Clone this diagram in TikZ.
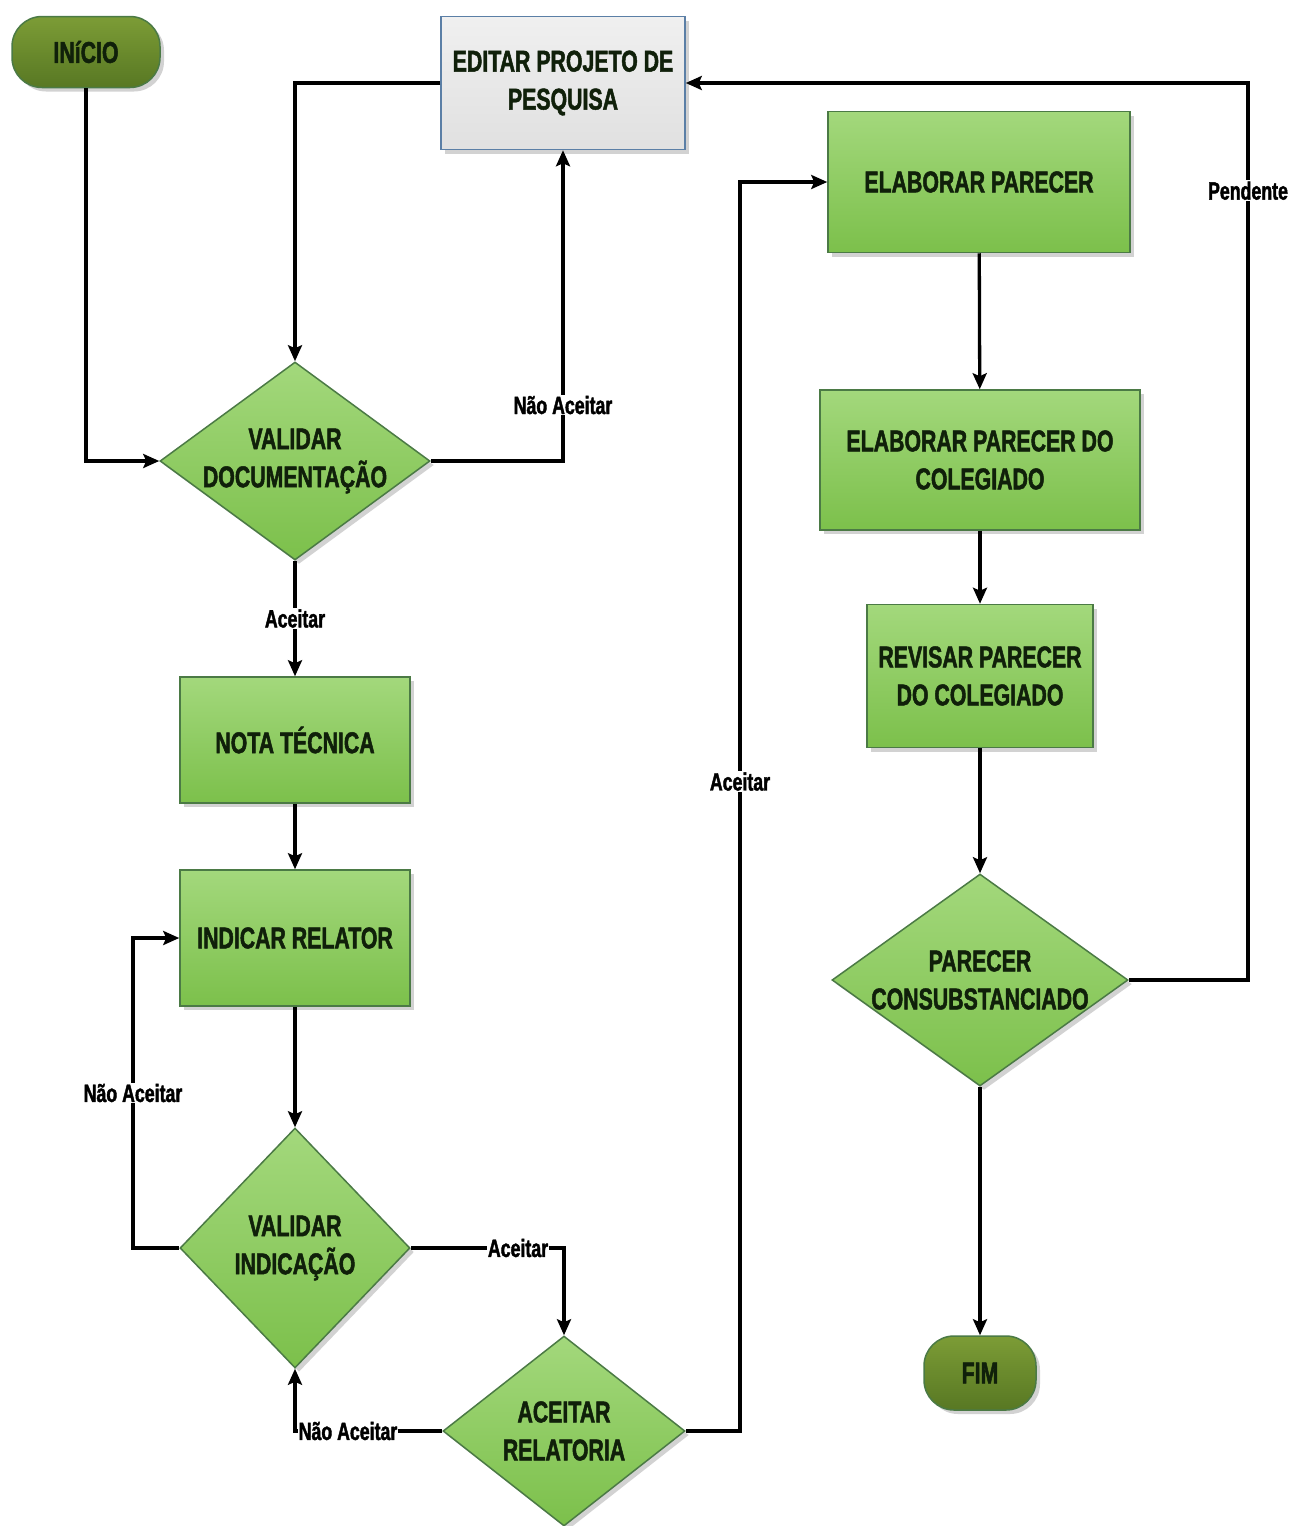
\documentclass[tikz,border=0pt]{standalone}
\usepackage{fontspec}
\setmainfont{Liberation Sans}[FakeStretch=0.71, BoldFeatures={FakeBold=1.6}]
\usetikzlibrary{arrows.meta}
\usetikzlibrary{shapes.geometric,shadows}

\definecolor{boxtop}{HTML}{A3D87C}
\definecolor{boxbot}{HTML}{7CC04B}
\definecolor{boxline}{HTML}{4B7A45}
\definecolor{boxtext}{HTML}{10200A}
\definecolor{termtop}{HTML}{7C9C36}
\definecolor{termbot}{HTML}{587823}
\definecolor{editline}{HTML}{5B7FA6}

\begin{document}
\begin{tikzpicture}[x=1pt,y=-1pt,
  box/.style={draw=boxline, line width=1.5pt, top color=boxtop, bottom color=boxbot,
    drop shadow={shadow xshift=4pt, shadow yshift=-4pt, opacity=.35},
    font=\fontsize{30}{38}\selectfont\bfseries, text=boxtext, align=center, inner sep=0pt},
  dec/.style={box, diamond, inner sep=-6pt},
  term/.style={box, rounded corners=30pt, top color=termtop, bottom color=termbot},
  lbl/.style={fill=white, inner sep=1pt, font=\fontsize{25}{28}\selectfont\bfseries},
  conn/.style={black, line width=3.3pt, ->, >={Stealth[length=16pt,width=14pt,inset=3pt]}}]
\fill[white] (0,0) rectangle (1297,1526);
\useasboundingbox (0,0) rectangle (1297,1526);

% left column
\node[term, minimum width=148pt, minimum height=71pt] (inicio) at (86,52) {INíCIO};
\node[box, minimum width=244pt, minimum height=133pt, draw=editline,
  top color=gray!12, bottom color=gray!24] (editar) at (563,83) {EDITAR PROJETO DE\\PESQUISA};
\node[dec, minimum width=270pt, minimum height=198pt, aspect=1.36] (valdoc) at (295,461) {VALIDAR\\DOCUMENTAÇÃO};
\node[box, minimum width=230pt, minimum height=126pt] (nota) at (295,740) {NOTA TÉCNICA};
\node[box, minimum width=230pt, minimum height=136pt] (indicar) at (295,938) {INDICAR RELATOR};
\node[dec, minimum width=230pt, minimum height=240pt, aspect=.96] (valind) at (295,1248) {VALIDAR\\INDICAÇÃO};
\node[dec, minimum width=242pt, minimum height=190pt, aspect=1.27] (acrel) at (564,1431) {ACEITAR\\RELATORIA};

% right column
\node[box, minimum width=302pt, minimum height=141pt] (elab) at (979,182) {ELABORAR PARECER};
\node[box, minimum width=320pt, minimum height=140pt] (elabcol) at (980,460) {ELABORAR PARECER DO\\COLEGIADO};
\node[box, minimum width=226pt, minimum height=143pt] (revisar) at (980,676) {REVISAR PARECER\\DO COLEGIADO};
\node[dec, minimum width=296pt, minimum height=212pt, aspect=1.4] (parcons) at (980,980) {PARECER\\CONSUBSTANCIADO};
\node[term, minimum width=112pt, minimum height=74pt] (fim) at (980,1373) {FIM};

\coordinate (cNaoInd) at (133,1248);
\coordinate (cAceitar) at (740,1431);
\coordinate (cPend) at (1248,980);

\draw[conn] (inicio.south) |- (valdoc.west);
\draw[conn] (editar.west) -| (valdoc.north);
\draw[conn] (valdoc.east) -| node[lbl, pos=.59] {Não Aceitar} (editar.south);
\draw[conn] (valdoc.south) -- node[lbl] {Aceitar} (nota.north);
\foreach \a/\b in {nota/indicar, indicar/valind, elab/elabcol, elabcol/revisar, revisar/parcons, parcons/fim}
  \draw[conn] (\a) -- (\b);
\draw[conn] (valind.west) -- (cNaoInd) |- node[lbl, pos=.25] {Não Aceitar} (indicar.west);
\draw[conn] (valind.east) -| node[lbl, pos=.35] {Aceitar} (acrel.north);
\draw[conn] (acrel.west) -| node[lbl, pos=.32] {Não Aceitar} (valind.south);
\draw[conn] (acrel.east) -- (cAceitar) |- node[lbl, pos=.26] {Aceitar} (elab.west);
\draw[conn] (parcons.east) -- (cPend) |- node[lbl, pos=.44] {Pendente} (editar.east);
\end{tikzpicture}
\end{document}
